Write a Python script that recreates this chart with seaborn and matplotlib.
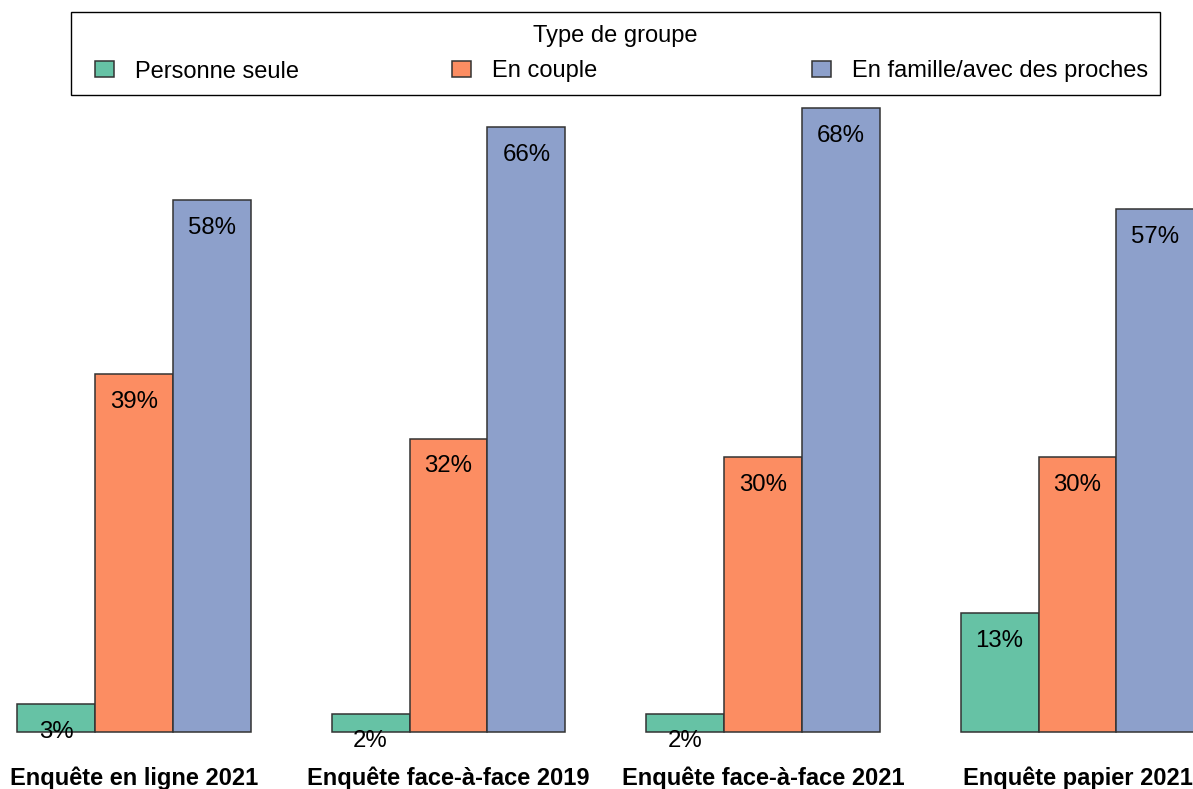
import matplotlib
matplotlib.use("Agg")
import matplotlib.pyplot as plt
from matplotlib.patches import Rectangle
import seaborn as sns
import pandas as pd

# Survey waves and household type shares (%)
enquetes = ["Enquête en ligne 2021", "Enquête face-à-face 2019",
            "Enquête face-à-face 2021", "Enquête papier 2021"]
types_groupe = ["Personne seule", "En couple", "En famille/avec des proches"]
personne_seule = [3, 2, 2, 13]
en_couple = [39, 32, 30, 30]
en_famille = [58, 66, 68, 57]

df = pd.DataFrame({
    "enquete": enquetes * 3,
    "type": [types_groupe[0]] * 4 + [types_groupe[1]] * 4 + [types_groupe[2]] * 4,
    "pct": personne_seule + en_couple + en_famille,
})

sns.set_theme(style="white")
plt.rcParams["font.family"] = ["Liberation Sans", "DejaVu Sans"]

W, H, DPI = 1193, 789, 100
fig = plt.figure(figsize=(W / DPI, H / DPI), dpi=DPI)
base_px = 57
ax = fig.add_axes([0, base_px / H, 1, 1 - base_px / H])

palette = ["#66C2A5", "#FC8D62", "#8DA0CB"]
sns.barplot(data=df, x="enquete", y="pct", hue="type", order=enquetes,
            hue_order=types_groupe, palette=palette, width=0.744,
            edgecolor="#333333", linewidth=1.1, saturation=1, ax=ax)

px_per_unit = 9.17
ax.set_ylim(0, (H - base_px) / px_per_unit)
ax.set_xlim(-134 / 314.5, (W - 134) / 314.5)

# Value labels just inside the top of each bar
for container, tname in zip(ax.containers, types_groupe):
    vals = df[df["type"] == tname].set_index("enquete").loc[enquetes, "pct"].tolist()
    for patch, v in zip(container.patches, vals):
        ax.annotate(f"{v}%", (patch.get_x() + patch.get_width() / 2, patch.get_height()),
                    xytext=(0, -20.0), textcoords="offset points",
                    ha="center", va="center", fontsize=17.3, color="black",
                    annotation_clip=False)
for p in ax.patches:
    p.set_clip_on(False)

ax.set_xlabel("")
ax.set_ylabel("")
ax.set_yticks([])
ax.tick_params(axis="x", length=0, pad=24.5)
for lab in ax.get_xticklabels():
    lab.set_fontweight("bold")
    lab.set_fontsize(17)
    lab.set_color("black")
for s in ax.spines.values():
    s.set_visible(False)

handles, labels = ax.get_legend_handles_labels()
ax.get_legend().remove()

# Legend frame and title across the top
fig.patches.append(Rectangle((71 / W, 1 - 95 / H), 1089 / W, 83 / H,
                             transform=fig.transFigure, fill=False,
                             edgecolor="black", linewidth=1.0))
fig.text(615.5 / W, 1 - 36 / H, "Type de groupe", ha="center", va="center",
         fontsize=17, color="black")

# One legend entry per household type, spread over the frame width
entry_x = [95, 452, 812]
for h, l, x in zip(handles, labels, entry_x):
    lg = fig.legend([h], [l], loc="center left",
                    bbox_to_anchor=(x / W, 1 - 71.5 / H), borderaxespad=0,
                    borderpad=0, frameon=False, fontsize=17,
                    handlelength=0.8, handleheight=0.64, handletextpad=0.89)
    for t in lg.get_texts():
        t.set_color("black")

fig.savefig("out.png", dpi=DPI)
